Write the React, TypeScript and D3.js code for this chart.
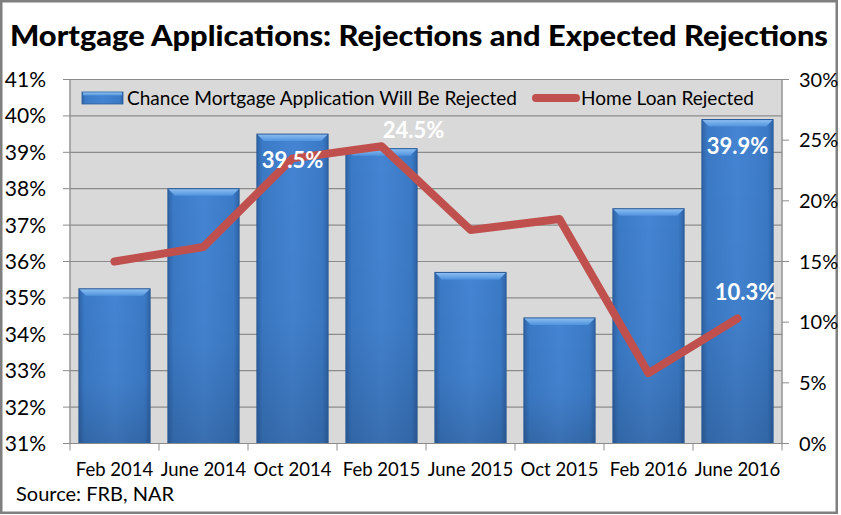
import React from "react";
import * as d3 from "d3";

const categories = ["Feb 2014", "June 2014", "Oct 2014", "Feb 2015", "June 2015", "Oct 2015", "Feb 2016", "June 2016"];
const chanceRejected = [35.25, 38.0, 39.5, 39.1, 35.7, 34.45, 37.45, 39.9];
const homeLoanRejected = [15.0, 16.2, 23.5, 24.5, 17.6, 18.5, 5.8, 10.3];
const leftTicks = [31, 32, 33, 34, 35, 36, 37, 38, 39, 40, 41];
const rightTicks = [0, 5, 10, 15, 20, 25, 30];
const barLabelIdx = [2, 7];
const lineLabelIdx = [3, 7];

const W = 841;
const H = 515;
const PL = 70, PR = 782, PT = 79.5, PB = 443.5;
const FONT = "Lato, 'Open Sans', sans-serif";

export default function App() {
  const x = d3.scaleBand<string>().domain(categories).range([PL, PR]).paddingInner(0.2).paddingOuter(0.1);
  const yL = d3.scaleLinear().domain([31, 41]).range([PB, PT]);
  const yR = d3.scaleLinear().domain([0, 30]).range([PB, PT]);
  const bw = x.bandwidth();
  const cx = (c: string) => (x(c) as number) + bw / 2;
  const line = d3.line<number>().x((_, i) => cx(categories[i])).y((v) => yR(v));
  const step = x.step();
  const boundaries = d3.range(categories.length + 1).map((i) => PL + i * step);
  const lineLabelOffsets: Record<number, [number, number]> = { 3: [32, -8], 7: [8, -19] };

  return (
    <svg width={W} height={H} style={{ position: "absolute", left: 0, top: 0, background: "#fff" }} fontFamily={FONT}>
      <defs>
        <linearGradient id="barH" x1="0" x2="1" y1="0" y2="0">
          <stop offset="0" stopColor="#2F64A8" />
          <stop offset="0.08" stopColor="#3B7AC6" />
          <stop offset="0.5" stopColor="#4484D2" />
          <stop offset="0.92" stopColor="#3B7AC6" />
          <stop offset="1" stopColor="#2F64A8" />
        </linearGradient>
        <linearGradient id="barV" x1="0" x2="0" y1="0" y2="1">
          <stop offset="0" stopColor="#000" stopOpacity="0" />
          <stop offset="0.6" stopColor="#000" stopOpacity="0.03" />
          <stop offset="1" stopColor="#000" stopOpacity="0.16" />
        </linearGradient>
        <linearGradient id="bevel" x1="0" x2="0" y1="0" y2="1">
          <stop offset="0" stopColor="#8FC0F2" />
          <stop offset="1" stopColor="#5093DE" />
        </linearGradient>
      </defs>
      <rect x={0} y={0} width={W} height={H} fill="#fff" />
      <rect x={1.25} y={1.25} width={835.5} height={511.5} fill="none" stroke="#7F7F7F" strokeWidth={2.5} />

      <text x={10} y={46} fontSize={28} fontWeight={900} textLength={818} lengthAdjust="spacingAndGlyphs" fill="#000"
        fontFamily="Lato, sans-serif">
        Mortgage Applications: Rejections and Expected Rejections
      </text>

      <rect x={PL} y={PT} width={PR - PL} height={PB - PT} fill="#D9D9D9" stroke="#A6A6A6" strokeWidth={1} />
      {leftTicks.map((t) => (
        <line key={"g" + t} x1={PL} x2={PR} y1={yL(t)} y2={yL(t)} stroke="#8C8C8C" strokeWidth={1.2} />
      ))}

      {/* Legend */}
      <rect x={82} y={92} width={41} height={12} fill="url(#barH)" stroke="#2B5C99" strokeWidth={0.8} />
      <rect x={83} y={92.5} width={39} height={3} fill="url(#bevel)" />
      <text x={127} y={105} fontSize={19} fill="#000" textLength={390} lengthAdjust="spacingAndGlyphs">
        Chance Mortgage Application Will Be Rejected
      </text>
      <line x1={536} x2={576} y1={98} y2={98} stroke="#C0504D" strokeWidth={8} strokeLinecap="round" />
      <text x={581} y={105} fontSize={19} fill="#000" textLength={173} lengthAdjust="spacingAndGlyphs">
        Home Loan Rejected
      </text>

      {/* Bars */}
      {categories.map((c, i) => {
        const bx = x(c) as number;
        const by = yL(chanceRejected[i]);
        const h = PB - by;
        return (
          <g key={"b" + c}>
            <rect x={bx} y={by} width={bw} height={h} fill="url(#barH)" />
            <rect x={bx} y={by} width={bw} height={h} fill="url(#barV)" />
            <polygon
              points={`${bx},${by} ${bx + bw},${by} ${bx + bw - 7},${by + 7} ${bx + 7},${by + 7}`}
              fill="url(#bevel)"
            />
            <rect x={bx} y={by} width={bw} height={h} fill="none" stroke="#2A5A96" strokeWidth={1} />
          </g>
        );
      })}

      {/* Line */}
      <path d={line(homeLoanRejected) || ""} fill="none" stroke="#C0504D" strokeWidth={8} strokeLinejoin="round" strokeLinecap="round" />

      {/* Data labels */}
      {barLabelIdx.map((i) => (
        <text key={"bl" + i} x={cx(categories[i])} y={yL(chanceRejected[i]) + 34} textAnchor="middle" fontSize={22} fontWeight={700} fill="#fff">
          {chanceRejected[i].toFixed(1)}%
        </text>
      ))}
      {lineLabelIdx.map((i) => (
        <text key={"ll" + i} x={cx(categories[i]) + lineLabelOffsets[i][0]} y={yR(homeLoanRejected[i]) + lineLabelOffsets[i][1]}
          textAnchor="middle" fontSize={22} fontWeight={700} fill="#fff">
          {homeLoanRejected[i].toFixed(1)}%
        </text>
      ))}

      {/* Left axis */}
      <line x1={PL} x2={PL} y1={PT} y2={PB} stroke="#8C8C8C" />
      {leftTicks.map((t) => (
        <g key={"lt" + t}>
          <line x1={PL - 7} x2={PL} y1={yL(t)} y2={yL(t)} stroke="#8C8C8C" />
          <text x={46} y={yL(t) + 7.5} textAnchor="end" fontSize={21} fill="#000">{t}%</text>
        </g>
      ))}

      {/* Right axis */}
      <line x1={PR} x2={PR} y1={PT} y2={PB} stroke="#8C8C8C" />
      {rightTicks.map((t) => (
        <g key={"rt" + t}>
          <line x1={PR} x2={PR + 7} y1={yR(t)} y2={yR(t)} stroke="#8C8C8C" />
          <text x={799} y={yR(t) + 7} fontSize={20} fill="#000">{t}%</text>
        </g>
      ))}

      {/* Bottom axis */}
      <line x1={PL} x2={PR} y1={PB} y2={PB} stroke="#8C8C8C" />
      {boundaries.map((b, i) => (
        <line key={"bt" + i} x1={b} x2={b} y1={PB} y2={PB + 7} stroke="#8C8C8C" />
      ))}
      {categories.map((c) => (
        <text key={"cl" + c} x={cx(c)} y={476} textAnchor="middle" fontSize={18.5} fill="#000">{c}</text>
      ))}

      <text x={16} y={501} fontSize={20} fill="#000">Source: FRB, NAR</text>
    </svg>
  );
}
